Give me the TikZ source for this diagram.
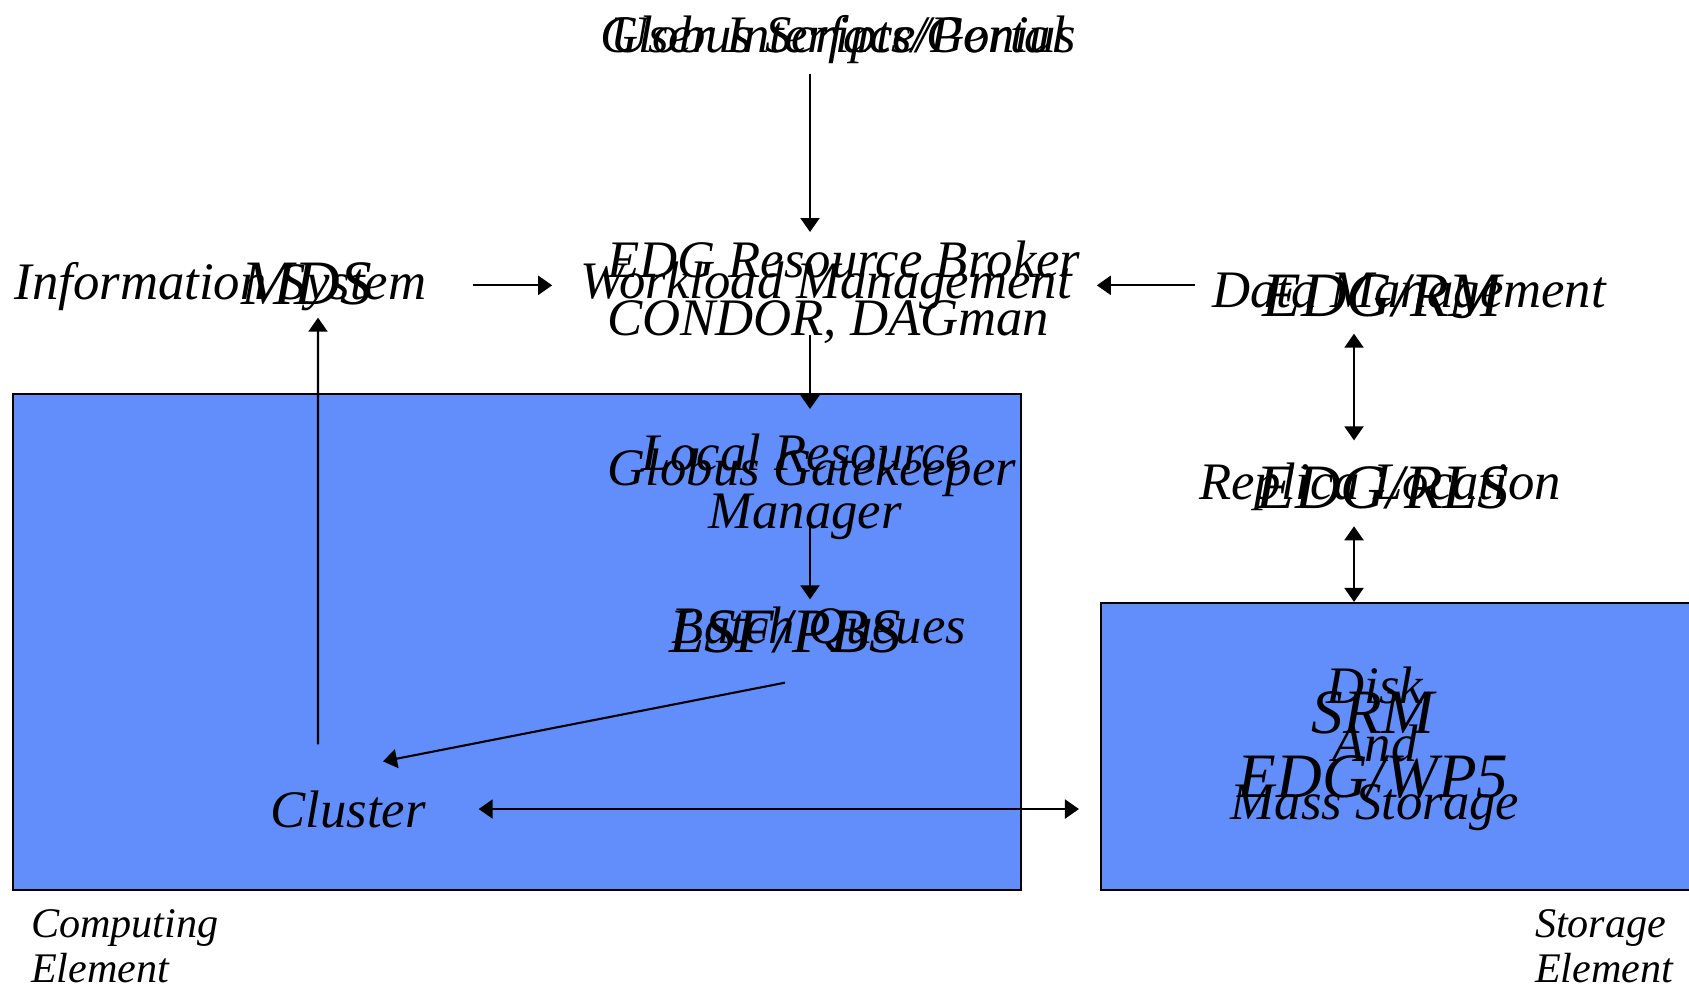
\documentclass[tikz,border=0pt]{standalone}
\usepackage{fontspec}
\setmainfont{Liberation Serif}
\usetikzlibrary{arrows.meta}
\definecolor{panelblue}{RGB}{98,142,252}

\begin{document}
\begin{tikzpicture}[
  txt/.style={inner sep=0pt, font=\fontsize{15}{16.5}\selectfont\itshape},
  bigtxt/.style={inner sep=0pt, font=\fontsize{18}{18}\selectfont\itshape},
  smalltxt/.style={inner sep=0pt, font=\fontsize{12}{12.8}\selectfont\itshape, align=left, anchor=north west},
  panel/.style={draw, fill=panelblue, rectangle, inner sep=0pt},
  >={Triangle[length=1.4mm, width=1.9mm]}, line width=0.6pt]
\useasboundingbox (0,0) rectangle (16.89,-9.87);

% 元素框
\node[panel, minimum width=10.08cm, minimum height=4.96cm] (cebox) at (5.17,-6.42) {};
\node[panel, minimum width=5.99cm, minimum height=2.87cm] (sebox) at (14.005,-7.465) {};

% 箭头所在的竖线
\coordinate (maxis) at (8.10,0);
\coordinate (raxis) at (13.54,0);

% 顶部
\node[txt, anchor=base] (ui) at (8.38,-0.52) {User Interface/Portal};
\node[txt, anchor=base] (uialt) at (8.38,-0.52) {Globus Scripts/Genius};

% 中间一行
\node[txt, anchor=base] (info) at (2.205,-2.99) {Information System};
\node[bigtxt, anchor=base] (mds) at (3.07,-3.04) {MDS};
\node[txt, anchor=base] (wm) at (8.26,-2.98) {Workload Management};
\node[txt, anchor=north west, align=left] (rb) at (6.06,-2.40) {EDG Resource Broker\\CONDOR, DAGman};
\node[txt, anchor=base] (dm) at (14.09,-3.07) {Data Management};
\node[bigtxt, anchor=base] (rm) at (13.82,-3.16) {EDG/RM};

% 副本
\node[txt, anchor=base] (rl) at (13.80,-4.99) {Replica Location};
\node[bigtxt, anchor=base] (rls) at (13.83,-5.08) {EDG/RLS};

% 计算单元
\node[txt, anchor=north, align=center] (lrm) at (8.05,-4.33) {Local Resource\\Manager};
\node[txt, anchor=base] (gk) at (8.12,-4.85) {Globus Gatekeeper};
\node[txt, anchor=base] (bq) at (8.19,-6.43) {Batch Queues};
\node[bigtxt, anchor=base] (pbs) at (7.85,-6.52) {LSF/PBS};
\node[txt, anchor=base] (cluster) at (3.48,-8.27) {Cluster};

% 存储单元
\node[txt, anchor=north, align=center] (disk) at (13.75,-6.66) {Disk\\And\\Mass Storage};
\node[bigtxt, anchor=north, align=center] (srm) at (13.73,-6.91) {SRM\\EDG/WP5};

% 标签
\node[smalltxt] (ce) at (0.30,-9.09) {Computing\\Element};
\node[smalltxt] (se) at (15.34,-9.09) {Storage\\Element};

% 连接
\draw[->, shorten <=1mm, shorten >=0.8mm] (ui.south -| maxis) -- (rb.north -| maxis);
\draw[->, shorten <=-1mm, shorten >=2.4mm] (rb.south -| maxis) -- (lrm.north -| maxis);
\draw[->, shorten <=-1.4mm, shorten >=0.6mm] (lrm.south -| maxis) -- (bq.north -| maxis);
\draw[->] ([yshift=-2.9mm]pbs.south) -- ([xshift=3.5mm, yshift=2.8mm]cluster.north);
\draw[->, shorten >=1.2mm] ([xshift=-3mm, yshift=4.5mm]cluster.north) -- ([xshift=1.1mm]mds.south);
\draw[->, shorten <=4.6mm, shorten >=2.7mm] (info.east |- wm.west) -- (wm.west);
\draw[->, shorten <=1.6mm, shorten >=2.4mm] (dm.west |- wm.east) -- (wm.east);
\draw[<->, shorten <=1.6mm, shorten >=2.1mm] (rm.south -| raxis) -- (rl.north -| raxis);
\draw[<->, shorten <=1.5mm] (rl.south -| raxis) -- (sebox.north -| raxis);
\draw[<->, shorten <=5.2mm, shorten >=2.1mm] (cluster.east) -- (cluster.east -| sebox.west);
\end{tikzpicture}
\end{document}
